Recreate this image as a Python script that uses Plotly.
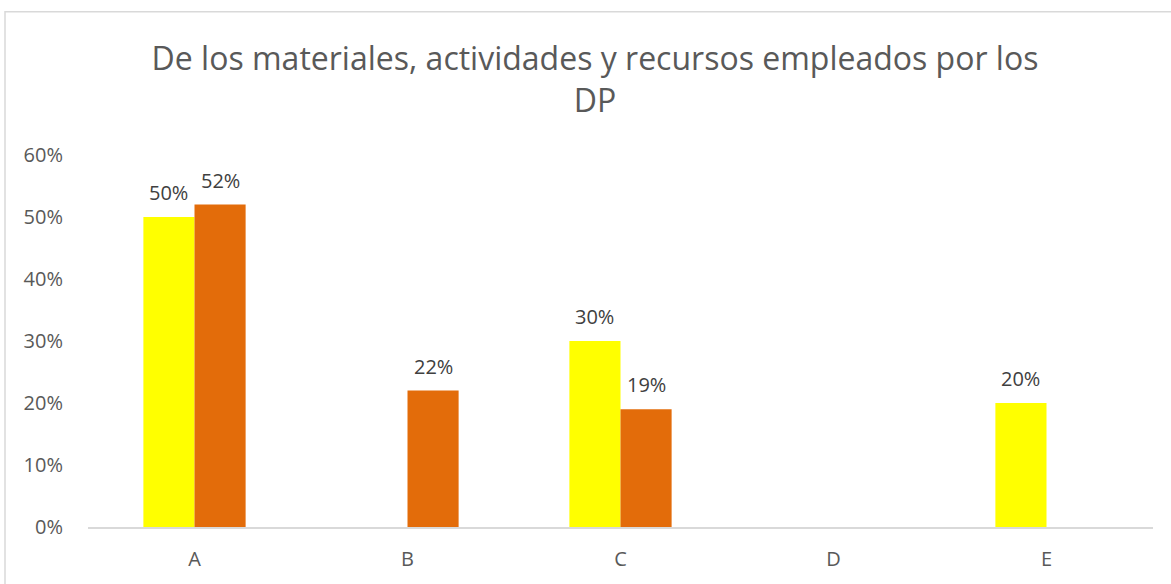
import plotly.graph_objects as go

categories = ["A", "B", "C", "D", "E"]
serie1 = [0.50, None, 0.30, None, 0.20]
serie2 = [0.52, 0.22, 0.19, None, None]
tick_vals = [0, 0.1, 0.2, 0.3, 0.4, 0.5, 0.6]
tick_text = ["0%", "10%", "20%", "30%", "40%", "50%", "60%"]
title_text = "De los materiales, actividades y recursos empleados por los<br>DP"

FONT = "Open Sans, Liberation Sans, sans-serif"

W, H = 1171, 584
ml, mr, mt, mb = 88, 18, 155, 55
pw, ph = W - ml - mr, H - mt - mb
bargap = 0.52
bar_px = pw / len(categories) * (1 - bargap) / 2

fig = go.Figure()
fig.add_trace(go.Bar(x=categories, y=serie1, name="Serie 1", marker_color="#FFFF00",
                     marker_line_width=0))
fig.add_trace(go.Bar(x=categories, y=serie2, name="Serie 2", marker_color="#E36C0A",
                     marker_line_width=0))

for series, side in ((serie1, -1), (serie2, 1)):
    for cat, v in zip(categories, series):
        if v is None:
            continue
        fig.add_annotation(x=cat, y=v, text=f"{round(v*100)}%", showarrow=False,
                           xanchor="center", yanchor="bottom",
                           xshift=side * bar_px / 2, yshift=9,
                           font=dict(size=20, color="#404040", family=FONT))

fig.update_layout(
    width=W, height=H,
    margin=dict(l=ml, r=mr, t=mt, b=mb),
    paper_bgcolor="white", plot_bgcolor="white",
    barmode="group", bargap=bargap, bargroupgap=0,
    showlegend=False,
    font=dict(family=FONT, color="#595959"),
    title=dict(text=title_text, x=595 / W, xref="container", xanchor="center",
               y=1 - 70 / H, yref="container", yanchor="top",
               font=dict(size=32, color="#595959", family=FONT)),
    xaxis=dict(showgrid=False, showline=True, linecolor="#D9D9D9", linewidth=1.5,
               ticks="", tickfont=dict(size=20, color="#595959"), zeroline=False,
               ticklabelstandoff=13),
    yaxis=dict(range=[0, 0.6], tickvals=tick_vals, ticktext=tick_text, showgrid=False,
               zeroline=False, showline=False, ticks="", ticklen=0,
               tickfont=dict(size=20, color="#595959"), ticklabelstandoff=24),
)

fig.add_shape(type="rect", xref="paper", yref="paper",
              x0=(5 - ml) / pw, x1=(1172 - ml) / pw,
              y0=(H - mb - 600) / ph, y1=(H - mb - 11) / ph,
              line=dict(color="#D9D9D9", width=1.5), fillcolor="rgba(0,0,0,0)")

fig.write_html("out.html", config={"displayModeBar": False},
               post_script="document.body.style.margin='0px';")
